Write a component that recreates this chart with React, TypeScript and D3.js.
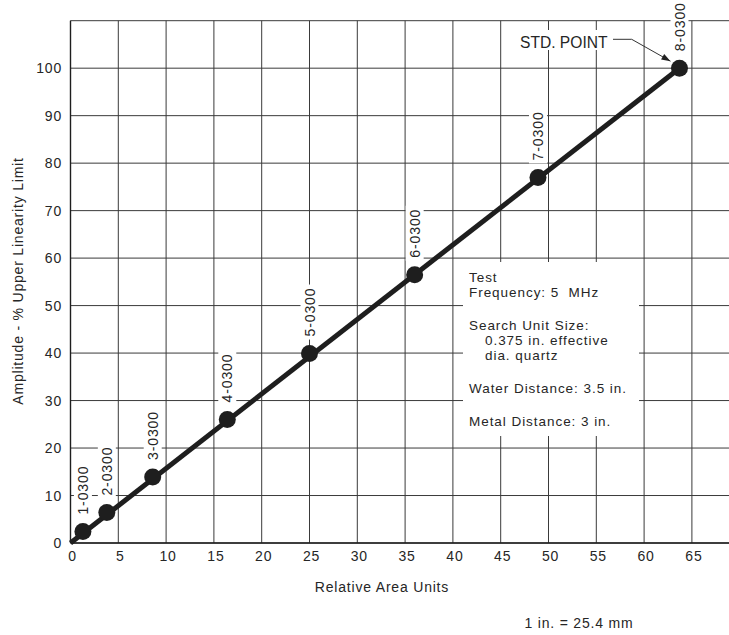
import { useEffect, useRef } from "react";
import * as d3 from "d3";

const sampleLabels = ["1-0300", "2-0300", "3-0300", "4-0300", "5-0300", "6-0300", "7-0300", "8-0300"];
const areaUnits = [1.3, 3.8, 8.6, 16.4, 25.0, 36.0, 48.9, 63.7];
const amplitudes = [2.4, 6.4, 13.9, 26.0, 39.9, 56.5, 77.0, 100];

// straight calibration line drawn through the origin and the std point
const fitAreaUnits = [0, 63.7];
const fitAmplitudes = [0, 100];

const xTicks = [0, 5, 10, 15, 20, 25, 30, 35, 40, 45, 50, 55, 60, 65];
const yTicks = [0, 10, 20, 30, 40, 50, 60, 70, 80, 90, 100];
const xGrid = [...xTicks, 70];
const yGrid = [...yTicks, 110];

const noteParagraphs = [
  [{ text: "Test", sub: false }, { text: "Frequency: 5  MHz", sub: false }],
  [
    { text: "Search Unit Size:", sub: false },
    { text: "0.375 in. effective", sub: true },
    { text: "dia. quartz", sub: true },
  ],
  [{ text: "Water Distance: 3.5 in.", sub: false }],
  [{ text: "Metal Distance: 3 in.", sub: false }],
];

const FONT = "'Liberation Sans', Arial, Helvetica, sans-serif";
const INK = "#1e1e1e";
const TXT = "#262626";

const App = () => {
  const svgRef = useRef<SVGSVGElement>(null);

  useEffect(() => {
    if (!svgRef.current) return;
    const W = 729;
    const H = 635;
    const svg = d3.select(svgRef.current);
    svg.selectAll("*").remove();

    const x = d3.scaleLinear().domain([0, 70]).range([70.5, 739.7]);
    const y = d3.scaleLinear().domain([0, 110]).range([543, 20.7]);

    // scanned-print look: small type, wide tracking
    const label = (sel: any, size = 14, track = 0.8) =>
      sel.style("font", `${size}px ${FONT}`).style("letter-spacing", `${track}px`).attr("fill", TXT);

    svg.append("rect").attr("width", W).attr("height", H).attr("fill", "#fff");

    // grid
    const grid = svg.append("g").attr("stroke", "#3a3a3a").attr("stroke-width", 1);
    grid
      .selectAll("line.v")
      .data(xGrid)
      .join("line")
      .attr("class", "v")
      .attr("x1", (d) => x(d))
      .attr("x2", (d) => x(d))
      .attr("y1", y(0))
      .attr("y2", y(110));
    grid
      .selectAll("line.h")
      .data(yGrid)
      .join("line")
      .attr("class", "h")
      .attr("x1", x(0))
      .attr("x2", W)
      .attr("y1", (d) => y(d))
      .attr("y2", (d) => y(d));

    // axis lines a bit heavier
    svg
      .append("line")
      .attr("x1", x(0)).attr("x2", x(0))
      .attr("y1", y(0)).attr("y2", y(110))
      .attr("stroke", INK).attr("stroke-width", 1.4);
    svg
      .append("line")
      .attr("x1", x(0)).attr("x2", W)
      .attr("y1", y(0)).attr("y2", y(0))
      .attr("stroke", INK).attr("stroke-width", 1.4);

    // tick labels
    label(
      svg
        .append("g")
        .selectAll("text")
        .data(yTicks)
        .join("text")
        .attr("x", 62)
        .attr("y", (d) => y(d))
        .attr("dy", "0.36em")
        .attr("text-anchor", "end")
        .text((d) => d)
    );
    label(
      svg
        .append("g")
        .selectAll("text")
        .data(xTicks)
        .join("text")
        .attr("x", (d) => x(d) + 2)
        .attr("y", 561)
        .attr("text-anchor", "middle")
        .text((d) => d)
    );

    // axis titles
    label(
      svg
        .append("text")
        .attr("transform", `translate(23,281) rotate(-90)`)
        .attr("text-anchor", "middle")
        .text("Amplitude - % Upper Linearity Limit")
    );
    label(
      svg
        .append("text")
        .attr("x", 382)
        .attr("y", 592)
        .attr("text-anchor", "middle")
        .text("Relative Area Units")
    );
    label(
      svg
        .append("text")
        .attr("x", 579)
        .attr("y", 628)
        .attr("text-anchor", "middle")
        .text("1 in. = 25.4 mm")
    );

    // note box
    const note = svg.append("g");
    note.append("rect")
      .attr("x", 463).attr("y", 262).attr("width", 176).attr("height", 174)
      .attr("fill", "#fff");
    let base = 282;
    noteParagraphs.forEach((para, pi) => {
      if (pi > 0) base += 18;
      para.forEach((ln, li) => {
        if (li > 0) base += 15;
        label(
          note.append("text")
            .attr("x", ln.sub ? 485 : 469)
            .attr("y", base)
            .style("white-space", "pre")
            .text(ln.text),
          13.5,
          0.95
        );
      });
      base += 15;
    });

    // calibration line
    const pts = fitAreaUnits.map((u, i) => [x(u), y(fitAmplitudes[i])] as [number, number]);
    svg.append("path")
      .attr("d", d3.line()(pts))
      .attr("stroke", INK)
      .attr("stroke-width", 5)
      .attr("fill", "none");

    // points
    svg.append("g")
      .selectAll("circle")
      .data(areaUnits)
      .join("circle")
      .attr("cx", (d) => x(d))
      .attr("cy", (_, i) => y(amplitudes[i]))
      .attr("r", 8.5)
      .attr("fill", INK);

    // rotated point labels with white backing
    const lab = svg.append("g")
      .selectAll("g")
      .data(sampleLabels)
      .join("g")
      .attr("transform", (_, i) => `translate(${x(areaUnits[i])},${y(amplitudes[i]) - 17}) rotate(-90)`);
    const labText = label(
      lab.append("text")
        .attr("x", 0)
        .attr("dy", "0.36em")
        .text((d) => d),
      14,
      0.9
    );
    labText.each(function () {
      const t = this as SVGTextElement;
      const len = t.getComputedTextLength();
      d3.select(t.parentNode as SVGGElement)
        .insert("rect", "text")
        .attr("x", -3).attr("y", -9)
        .attr("width", len + 6).attr("height", 18)
        .attr("fill", "#fff");
    });

    // std point callout
    const callout = svg.append("g");
    callout.append("rect")
      .attr("x", 516).attr("y", 30).attr("width", 96).attr("height", 20)
      .attr("fill", "#fff");
    label(
      callout.append("text")
        .attr("x", 520).attr("y", 47.5)
        .text("STD. POINT"),
      15.6,
      0
    );
    const tipX = x(areaUnits[7]) - 9;
    const tipY = y(amplitudes[7]) - 7;
    callout.append("path")
      .attr("d", `M613,39.3 L631.7,39.3 L${tipX},${tipY}`)
      .attr("fill", "none")
      .attr("stroke", "#333")
      .attr("stroke-width", 1);
    const ang = Math.atan2(tipY - 39.3, tipX - 631.7);
    const ah = 9;
    const aw = 3.2;
    const bx = tipX - ah * Math.cos(ang);
    const by = tipY - ah * Math.sin(ang);
    callout.append("path")
      .attr("d", `M${tipX},${tipY} L${bx + aw * Math.sin(ang)},${by - aw * Math.cos(ang)} L${bx - aw * Math.sin(ang)},${by + aw * Math.cos(ang)} Z`)
      .attr("fill", "#222");
  }, []);

  return (
    <svg
      ref={svgRef}
      width={729}
      height={635}
      style={{ position: "absolute", left: 0, top: 0, display: "block" }}
    />
  );
};

export default App;
